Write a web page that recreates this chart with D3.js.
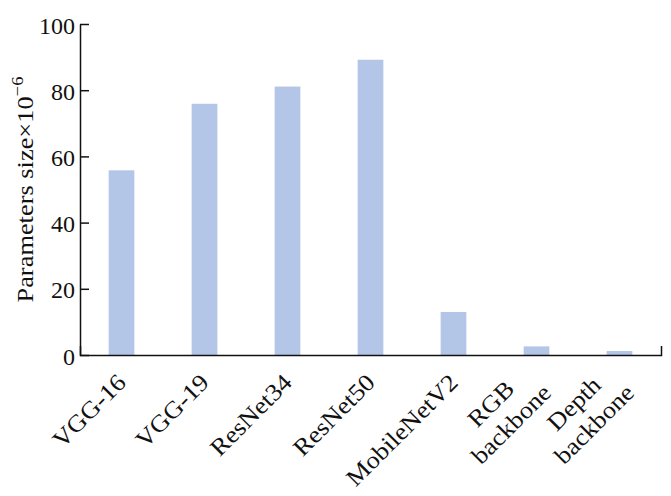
<!DOCTYPE html>
<html>
<head>
<meta charset="utf-8">
<script src="https://cdn.jsdelivr.net/npm/d3@7/dist/d3.min.js"></script>
<style>
  html, body { margin: 0; padding: 0; background: #fff; }
  svg { display: block; }
</style>
</head>
<body>
<svg id="chart" width="671" height="496"></svg>
<script>
const categories = ["VGG-16", "VGG-19", "ResNet34", "ResNet50", "MobileNetV2", "RGB\nbackbone", "Depth\nbackbone"];
const values = [55.8, 75.9, 81.1, 89.2, 13.0, 2.6, 1.2];
const yTicks = [0, 20, 40, 60, 80, 100];
const yLabel = "Parameters size\u00d710";
const yLabelSup = "\u22126";

(function () {
const FONT = '"Liberation Serif"';
const svg = d3.select("#chart");
const mLeft = 80, mRight = 661, mTop = 24, mBottom = 355;
const fs = 24;

const ctx = document.createElement("canvas").getContext("2d");
ctx.font = fs + 'px "Liberation Serif"';
const measure = s => ctx.measureText(s).width;

const x = d3.scaleBand().domain(categories).range([mLeft, mRight]).paddingInner(0.69).paddingOuter(0.345);
const y = d3.scaleLinear().domain([0, 100]).range([mBottom, mTop]);

// bars
svg.append("g").selectAll("rect").data(values).join("rect")
  .attr("x", (d, i) => x(categories[i]))
  .attr("width", x.bandwidth())
  .attr("y", d => y(d))
  .attr("height", d => y(0) - y(d))
  .attr("fill", "#b4c6e7");

// y axis
const yAxis = svg.append("g").attr("transform", `translate(${mLeft},0)`)
  .call(d3.axisLeft(y).tickValues(yTicks).tickSizeInner(-9).tickSizeOuter(0).tickPadding(5));
yAxis.attr("font-family", null).attr("font-size", null);
yAxis.selectAll("path, line").attr("stroke", "#111").attr("stroke-width", 1.5);
yAxis.selectAll("text")
  .style("font-family", FONT).style("font-size", fs + "px")
  .attr("dy", "0.38em").attr("fill", "#111");

// x axis (line + end tick from the axis; labels drawn per line)
const xAxis = svg.append("g").attr("transform", `translate(0,${mBottom})`)
  .call(d3.axisBottom(x).tickSizeInner(0).tickSizeOuter(-9).tickPadding(0));
xAxis.attr("font-family", null).attr("font-size", null);
xAxis.selectAll("path, line").attr("stroke", "#111").attr("stroke-width", 1.5);
xAxis.selectAll(".tick text").remove();

const lh = 1.2 * fs;
const labelG = svg.append("g");
categories.forEach(cat => {
  const lines = cat.split("\n");
  const cx = x(cat) + x.bandwidth() / 2;
  const W = d3.max(lines, measure);
  lines.forEach((s, i) => {
    const off = (W - measure(s)) / 2;
    labelG.append("text")
      .attr("transform", `translate(${cx},${mBottom + 23}) rotate(-45) scale(1.1,1)`)
      .attr("x", -off)
      .attr("y", (i - (lines.length - 1) / 2) * lh + 0.35 * fs)
      .attr("text-anchor", "end")
      .attr("fill", "#111")
      .style("font-family", FONT).style("font-size", fs + "px")
      .text(s);
  });
});

// y label
const yl = svg.append("text")
  .attr("transform", `translate(33,${(mTop + mBottom) / 2}) rotate(-90) scale(1.1,1)`)
  .attr("text-anchor", "middle")
  .attr("fill", "#111")
  .style("font-family", FONT).style("font-size", fs + "px");
yl.append("tspan").text(yLabel);
yl.append("tspan").text(yLabelSup).style("font-size", "17px").attr("dy", -10);
})();
</script>
</body>
</html>
